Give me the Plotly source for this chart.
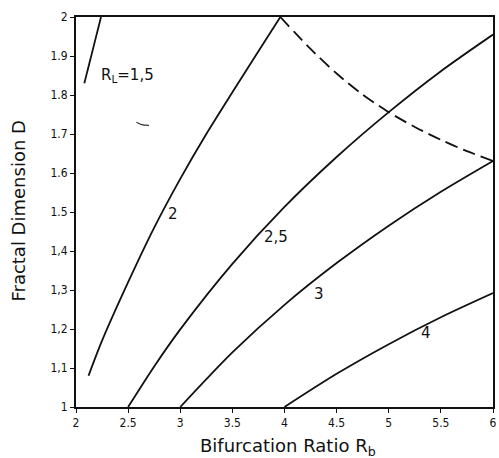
import plotly.graph_objects as go

# ---- data ----
rl15_rb = [2.08, 2.16, 2.24]
rl15_d = [1.83, 1.915, 2.00]

rl2_rb = [2.12, 2.25, 2.50, 2.75, 3.00, 3.25, 3.50, 3.75, 3.96]
rl2_d = [1.08, 1.17, 1.32, 1.46, 1.585, 1.70, 1.807, 1.912, 2.00]

rl25_rb = [2.50, 2.75, 3.00, 3.50, 4.00, 4.50, 5.00, 5.50, 6.00]
rl25_d = [1.00, 1.104, 1.199, 1.367, 1.513, 1.641, 1.756, 1.861, 1.955]

rl3_rb = [3.00, 3.50, 4.00, 4.50, 5.00, 5.50, 6.00]
rl3_d = [1.00, 1.140, 1.262, 1.369, 1.465, 1.552, 1.631]

rl4_rb = [4.00, 4.50, 5.00, 5.50, 6.00]
rl4_d = [1.00, 1.085, 1.161, 1.230, 1.292]

limit_rb = [3.96, 4.10, 4.25, 4.50, 4.75, 5.00, 5.25, 5.50, 5.75, 6.00]
limit_d = [2.00, 1.96, 1.918, 1.855, 1.801, 1.756, 1.718, 1.685, 1.656, 1.631]

stray_rb = [2.58, 2.63, 2.70]
stray_d = [1.730, 1.724, 1.722]

x_tickvals = [2, 2.5, 3, 3.5, 4, 4.5, 5, 5.5, 6]
x_ticktext = ["2", "2.5", "3", "3.5", "4", "4.5", "5", "5.5", "6"]
y_tickvals = [1, 1.1, 1.2, 1.3, 1.4, 1.5, 1.6, 1.7, 1.8, 1.9, 2]
y_ticktext = ["1", "1,1", "1,2", "1,3", "1,4", "1.5", "1.6", "1.7", "1.8", "1.9", "2"]

curve_labels = ["R<sub>L</sub>=1,5", "2", "2,5", "3", "4"]
label_rb = [2.49, 2.93, 3.92, 4.33, 5.36]
label_d = [1.85, 1.494, 1.436, 1.29, 1.19]

INK = "#111111"
fig = go.Figure()
for xs, ys in [(rl15_rb, rl15_d), (rl2_rb, rl2_d), (rl25_rb, rl25_d),
               (rl3_rb, rl3_d), (rl4_rb, rl4_d)]:
    fig.add_trace(go.Scatter(x=xs, y=ys, mode="lines",
                             line=dict(color=INK, width=1.8, shape="spline", smoothing=0.8),
                             showlegend=False, hoverinfo="skip"))
fig.add_trace(go.Scatter(x=limit_rb, y=limit_d, mode="lines",
                         line=dict(color=INK, width=1.8, dash="13px,6px", shape="spline", smoothing=0.8),
                         showlegend=False, hoverinfo="skip"))
fig.add_trace(go.Scatter(x=stray_rb, y=stray_d, mode="lines",
                         line=dict(color="#333333", width=1.2, shape="spline"),
                         showlegend=False, hoverinfo="skip"))

for t, xv, yv in zip(curve_labels, label_rb, label_d):
    fig.add_annotation(x=xv, y=yv, text=t, showarrow=False,
                       font=dict(family="DejaVu Sans", size=15, color=INK),
                       xanchor="center", yanchor="middle")

W, H = 499, 458
ml, mr, mt, mb = 76, 2, 17, 51
pw, ph = W - ml - mr, H - mt - mb

def px_to_paper(xp, yp):
    return (xp - ml) / pw, (H - mb - yp) / ph

ax, ay = px_to_paper(290, 447)
fig.add_annotation(x=ax, y=ay, xref="paper", yref="paper", text="Bifurcation Ratio R<sub>b</sub>",
                   showarrow=False, xanchor="center", yanchor="middle",
                   font=dict(family="DejaVu Sans", size=18, color=INK))
bx, by = px_to_paper(17, 211)
fig.add_annotation(x=bx, y=by, xref="paper", yref="paper", text="Fractal Dimension D",
                   showarrow=False, xanchor="center", yanchor="middle", textangle=-90,
                   font=dict(family="DejaVu Sans", size=18, color=INK))

tickfont = dict(family="DejaVu Sans Condensed, DejaVu Sans", size=12, color=INK)
fig.update_layout(
    width=W, height=H,
    margin=dict(l=ml, r=mr, t=mt, b=mb),
    paper_bgcolor="white", plot_bgcolor="white",
    xaxis=dict(range=[2, 6], tickvals=x_tickvals, ticktext=x_ticktext,
               showgrid=False, zeroline=False, showline=True, linecolor=INK, linewidth=2,
               mirror=True, ticks="outside", ticklen=4, tickcolor=INK, tickfont=tickfont),
    yaxis=dict(range=[1, 2], tickvals=y_tickvals, ticktext=y_ticktext,
               showgrid=False, zeroline=False, showline=True, linecolor=INK, linewidth=2,
               mirror=True, ticks="outside", ticklen=4, tickcolor=INK, tickfont=tickfont),
)

fig.write_html("out.html")
